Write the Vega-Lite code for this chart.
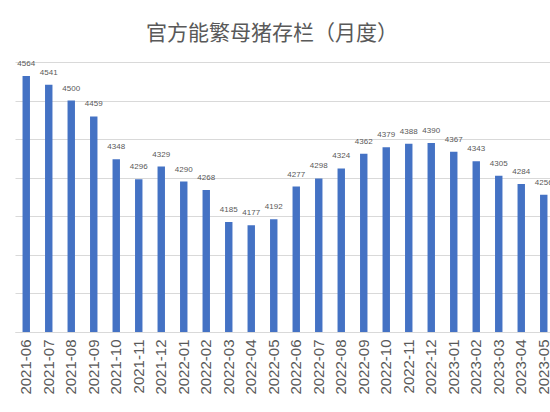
{
  "$schema": "https://vega.github.io/schema/vega-lite/v6.json",
  "width": 540,
  "height": 270,
  "autosize": {"type": "none"},
  "padding": {"left": 15, "top": 62, "right": 0, "bottom": 80},
  "background": "white",
  "title": {
    "text": "官方能繁母猪存栏（月度）",
    "font": "Noto Sans CJK SC",
    "fontSize": 21,
    "fontWeight": "normal",
    "color": "#595959",
    "anchor": "middle",
    "dx": -13,
    "offset": 16
  },
  "config": {
    "view": {"stroke": null},
    "font": "Liberation Sans"
  },
  "data": {
    "values": [
      {"month": "2021-06", "stock": 4564},
      {"month": "2021-07", "stock": 4541},
      {"month": "2021-08", "stock": 4500},
      {"month": "2021-09", "stock": 4459},
      {"month": "2021-10", "stock": 4348},
      {"month": "2021-11", "stock": 4296},
      {"month": "2021-12", "stock": 4329},
      {"month": "2022-01", "stock": 4290},
      {"month": "2022-02", "stock": 4268},
      {"month": "2022-03", "stock": 4185},
      {"month": "2022-04", "stock": 4177},
      {"month": "2022-05", "stock": 4192},
      {"month": "2022-06", "stock": 4277},
      {"month": "2022-07", "stock": 4298},
      {"month": "2022-08", "stock": 4324},
      {"month": "2022-09", "stock": 4362},
      {"month": "2022-10", "stock": 4379},
      {"month": "2022-11", "stock": 4388},
      {"month": "2022-12", "stock": 4390},
      {"month": "2023-01", "stock": 4367},
      {"month": "2023-02", "stock": 4343},
      {"month": "2023-03", "stock": 4305},
      {"month": "2023-04", "stock": 4284},
      {"month": "2023-05", "stock": 4256}
    ]
  },
  "encoding": {
    "x": {
      "field": "month",
      "type": "ordinal",
      "title": null,
      "scale": {"paddingInner": 0.67, "paddingOuter": 0.335},
      "axis": {
        "labelAngle": -90,
        "labelFontSize": 15,
        "labelColor": "#595959",
        "labelPadding": 7,
        "ticks": false,
        "domainColor": "#d9d9d9",
        "domainWidth": 1
      }
    },
    "y": {
      "field": "stock",
      "type": "quantitative",
      "title": null,
      "scale": {"domain": [3900, 4600], "zero": false, "nice": false},
      "axis": {
        "values": [3900, 4000, 4100, 4200, 4300, 4400, 4500, 4600],
        "labels": false,
        "ticks": false,
        "domain": false,
        "gridColor": "#d9d9d9",
        "gridWidth": 1
      }
    }
  },
  "layer": [
    {"mark": {"type": "bar", "color": "#4472C4", "clip": true}},
    {
      "mark": {
        "type": "text",
        "baseline": "bottom",
        "dy": -8,
        "fontSize": 8,
        "color": "#595959"
      },
      "encoding": {"text": {"field": "stock", "type": "quantitative"}}
    }
  ]
}
